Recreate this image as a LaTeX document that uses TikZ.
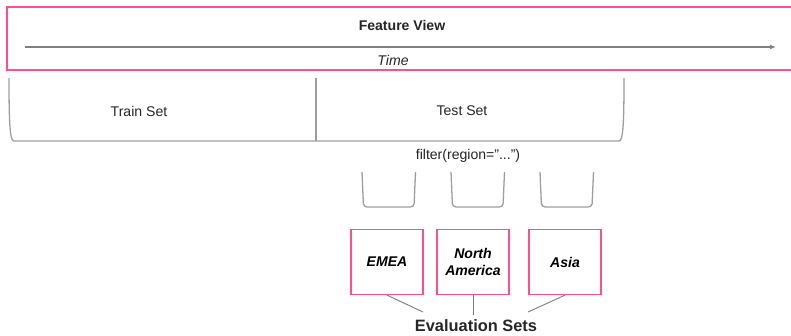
\documentclass[tikz,border=0pt]{standalone}
\usepackage{fontspec}
\setmainfont{Liberation Sans}
\usepackage{tikz}
\usetikzlibrary{
    calc,
    arrows.meta,
    positioning
}

\definecolor{viewpink}{HTML}{FF4F86}
\definecolor{setgray}{HTML}{9E9E9E}

\begin{document}
\begin{tikzpicture}[
            x=0.03cm, y=-0.03cm,
            set border/.style={draw=#1, line width=1.1pt},
            split line/.style={draw=setgray, line width=1.1pt},
            set label/.style={font=\fontsize{12}{14}\selectfont, text=black!85},
            region box/.style={set border=viewpink, minimum width=72*0.03cm, minimum height=65*0.03cm,
                align=center, inner sep=1pt, font=\fontsize{12}{14}\selectfont\bfseries\itshape}
        ]
        \clip (0,0) rectangle (791,335);

        % feature view, open to the right
        \draw [set border=viewpink] (800,7) -- (7,7) -- (7,70) -- (800,70);
        \node [set label, font=\fontsize{12}{14}\selectfont\bfseries] (view) at (402,25) {Feature View};
        \coordinate (t0) at (25,47);
        \coordinate (t1) at (776,47);
        \draw [draw=gray, line width=1pt, -{Latex[length=5pt,width=4pt]}] (t0) -- (t1);
        \node [set label, font=\fontsize{12}{14}\selectfont\itshape] (time) at (393,60) {Time};

        % train / test split
        \draw [split line] (9,78) .. controls (9,125) and (10,141) .. (14,141) -- (619,141)
            .. controls (623,141) and (624,125) .. (624,78);
        \draw [split line] (316,78) -- (316,141);
        \node [set label] (train) at (139,111) {Train Set};
        \node [set label] (test) at (462,111) {Test Set};
        \node [set label] (filter) at (468,156) {filter(region=”...”)};

        % one bucket per region
        \foreach \bx in {362, 451, 540}
            \draw [split line, rounded corners=3pt] (\bx,172) -- (\bx+1.5,207) -- (\bx+52,207) -- (\bx+53.5,172);

        \node [region box] (emea) at (387,262) {EMEA};
        \node [region box] (namerica) at (473,262) {North\\America};
        \node [region box] (asia) at (565,262) {Asia};

        \node [font=\fontsize{14}{16}\selectfont\bfseries, text=black!85] (evalsets) at (476,326) {Evaluation Sets};
        \coordinate (e1) at (423,312);
        \coordinate (e2) at (473,315);
        \coordinate (e3) at (528,312);
        \draw [draw=gray, line width=0.8pt] (emea.south) -- (e1);
        \draw [draw=gray, line width=0.8pt] (namerica.south) -- (e2);
        \draw [draw=gray, line width=0.8pt] (asia.south) -- (e3);
    \end{tikzpicture}
\end{document}
